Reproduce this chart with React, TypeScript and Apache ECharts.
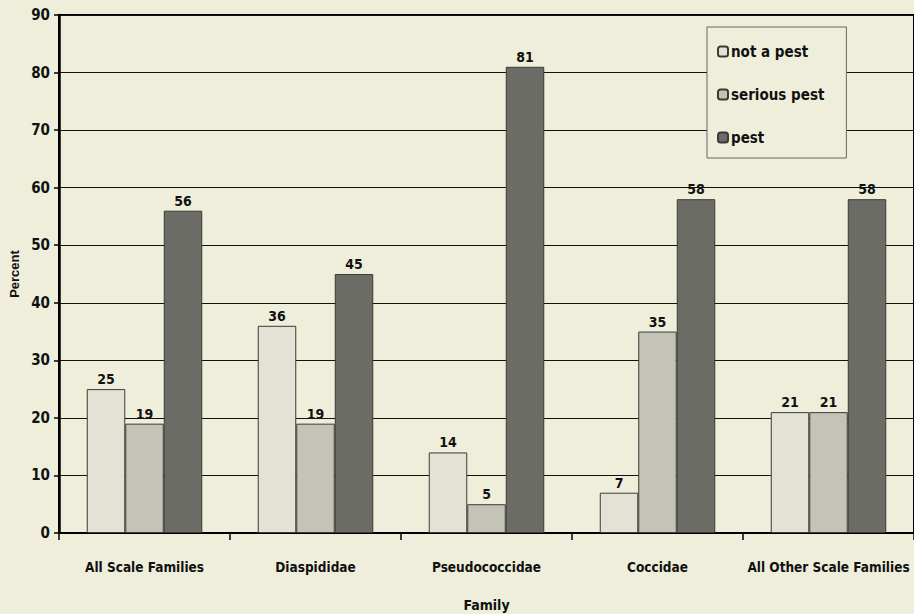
import React, { useEffect, useRef } from "react";
import * as echarts from "echarts";

const categories = ["All Scale Families", "Diaspididae", "Pseudococcidae", "Coccidae", "All Other Scale Families"];
const notAPest = [25, 36, 14, 7, 21];
const seriousPest = [19, 19, 5, 35, 21];
const pest = [56, 45, 81, 58, 58];
const seriesNames = ["not a pest", "serious pest", "pest"];

const BG = "#efeedb";
const FONT = "'DejaVu Sans Condensed', 'Liberation Sans Narrow', 'Arial Narrow', sans-serif";

export default function App() {
  const ref = useRef<HTMLDivElement>(null);
  useEffect(() => {
    if (!ref.current) return;
    const chart = echarts.init(ref.current, undefined, { renderer: "svg" });
    const mk = (name: string, data: number[], color: string) => ({
      name,
      type: "bar",
      data,
      barWidth: 38.5,
      barGap: "0%",
      itemStyle: { color, borderColor: "#3a3a36", borderWidth: 1 },
      label: {
        show: true,
        position: "top",
        distance: 3,
        color: "#111",
        fontFamily: FONT,
        fontWeight: "bold",
        fontSize: 14,
      },
    });
    chart.setOption({
      animation: false,
      backgroundColor: BG,
      grid: {
        left: 59,
        top: 15,
        bottom: 81,
        right: 0,
        outerBoundsMode: "none",
        containLabel: false,
        show: true,
        borderColor: "#000",
        borderWidth: 2,
        backgroundColor: BG,
      },
      legend: {
        orient: "vertical",
        left: 707,
        top: 27,
        padding: [17, 22, 13, 10],
        itemGap: 28,
        itemWidth: 10,
        itemHeight: 10,
        backgroundColor: BG,
        borderColor: "#666",
        borderWidth: 1,
        textStyle: { fontFamily: FONT, fontWeight: "bold", fontSize: 15, color: "#111", padding: [0, 0, 0, -2] },
        data: seriesNames,
      },
      xAxis: {
        type: "category",
        data: categories,
        name: "Family",
        nameLocation: "middle",
        nameGap: 65,
        nameMoveOverlap: false,
        nameTextStyle: { fontFamily: FONT, fontWeight: "bold", fontSize: 14, color: "#111" },
        axisLine: { lineStyle: { color: "#000", width: 2 } },
        axisTick: { show: true, interval: 0, length: 7, lineStyle: { color: "#000", width: 1.5 } },
        axisLabel: { interval: 0, fontFamily: FONT, fontWeight: "bold", fontSize: 13.5, color: "#111", margin: 27 },
      },
      yAxis: {
        type: "value",
        min: 0,
        max: 90,
        interval: 10,
        name: "Percent",
        nameLocation: "middle",
        nameGap: 38,
        nameRotate: 90,
        nameMoveOverlap: false,
        nameTextStyle: { fontFamily: "'Liberation Sans', Arial, sans-serif", fontWeight: "bold", fontSize: 13, color: "#111" },
        axisLine: { show: true, lineStyle: { color: "#000", width: 2.5 } },
        axisTick: { show: true, length: 5, lineStyle: { color: "#000", width: 1.5 } },
        axisLabel: { fontFamily: FONT, fontWeight: "bold", fontSize: 15, color: "#111", margin: 9 },
        splitLine: { show: true, lineStyle: { color: "#111", width: 1.2 } },
      },
      series: [
        mk(seriesNames[0], notAPest, "#e4e2d4"),
        mk(seriesNames[1], seriousPest, "#c3c3b7"),
        mk(seriesNames[2], pest, "#6c6c66"),
      ],
    });
    return () => chart.dispose();
  }, []);
  return <div ref={ref} style={{ position: "fixed", left: 0, top: 0, width: 914, height: 614 }} />;
}
